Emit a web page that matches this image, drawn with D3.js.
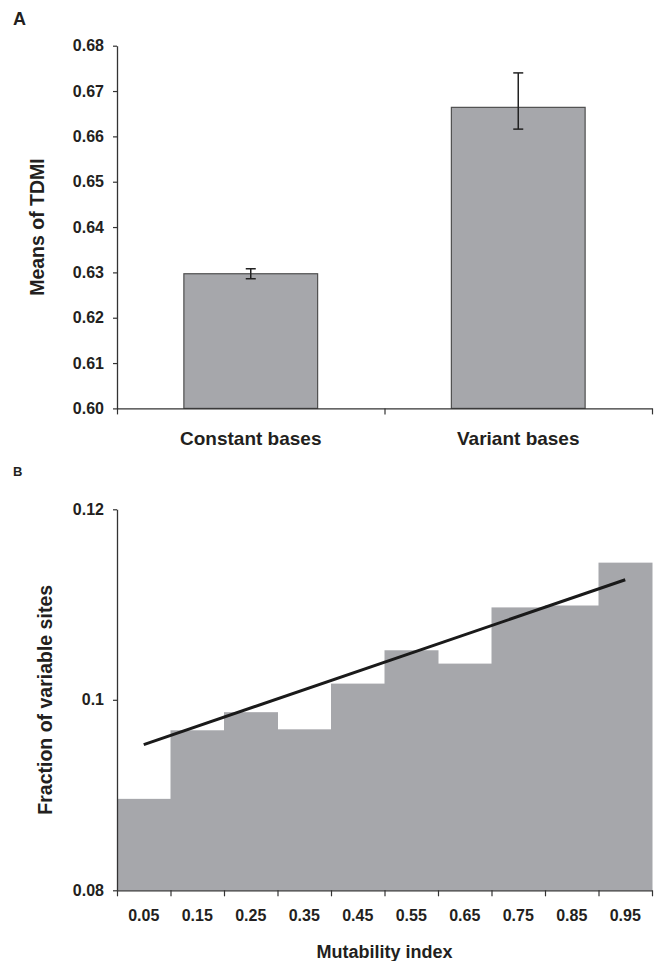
<!DOCTYPE html>
<html>
<head>
<meta charset="utf-8">
<script src="https://cdn.jsdelivr.net/npm/d3@7/dist/d3.min.js"></script>
<style>
  html, body { margin: 0; padding: 0; background: #fff; }
  svg { display: block; }
  text { font-family: "Liberation Sans", Arial, sans-serif; font-weight: bold; fill: #231f20; }
</style>
</head>
<body>
<svg id="chart" width="657" height="961"></svg>
<script>
// Panel A: mean TDMI per base class, with error bars
const baseClasses = ["Constant bases", "Variant bases"];
const tdmiMeans = [0.6297, 0.6664];
const tdmiErrLow = [0.6286, 0.6616];
const tdmiErrHigh = [0.6308, 0.6740];
const tdmiTicks = [0.60, 0.61, 0.62, 0.63, 0.64, 0.65, 0.66, 0.67, 0.68];

// Panel B: fraction of variable sites per mutability-index bin
const mutabilityBins = ["0.05", "0.15", "0.25", "0.35", "0.45", "0.55", "0.65", "0.75", "0.85", "0.95"];
const variableFraction = [0.0896, 0.0968, 0.0987, 0.0969, 0.1017, 0.1052, 0.1038, 0.1097, 0.1099, 0.1144];
const fractionTicks = [0.08, 0.10, 0.12];
const fractionTickLabels = ["0.08", "0.1", "0.12"];
// Fitted trend line endpoints (bin centre, fraction)
const trendBins = ["0.05", "0.95"];
const trendValues = [0.0953, 0.1126];

const svg = d3.select("#chart");
const barFill = "#a6a7ab";
const lineColor = "#333";
const tickFont = "16px";

// ---------- Panel A ----------
const gA = svg.append("g");
gA.append("text").attr("x", 13).attr("y", 25).style("font-size", "18px").text("A");

const xA = d3.scaleBand().domain(baseClasses).range([117, 652]).paddingInner(0.5).paddingOuter(0.25);
const yA = d3.scaleLinear().domain([0.60, 0.68]).range([408.4, 45.7]);

gA.selectAll("rect.bar").data(baseClasses).join("rect")
  .attr("class", "bar")
  .attr("x", d => xA(d))
  .attr("width", xA.bandwidth())
  .attr("y", (d, i) => yA(tdmiMeans[i]))
  .attr("height", (d, i) => yA(0.60) - yA(tdmiMeans[i]))
  .attr("fill", barFill)
  .attr("stroke", "#4f4f4f")
  .attr("stroke-width", 1.2);

// error bars
const eb = gA.selectAll("g.err").data(baseClasses).join("g").attr("class", "err")
  .attr("transform", d => `translate(${xA(d) + xA.bandwidth() / 2},0)`);
eb.append("line").attr("x1", 0).attr("x2", 0)
  .attr("y1", (d, i) => yA(tdmiErrHigh[i])).attr("y2", (d, i) => yA(tdmiErrLow[i]))
  .attr("stroke", "#222").attr("stroke-width", 1.5);
eb.append("line").attr("x1", -5).attr("x2", 5)
  .attr("y1", (d, i) => yA(tdmiErrHigh[i])).attr("y2", (d, i) => yA(tdmiErrHigh[i]))
  .attr("stroke", "#222").attr("stroke-width", 1.5);
eb.append("line").attr("x1", -5).attr("x2", 5)
  .attr("y1", (d, i) => yA(tdmiErrLow[i])).attr("y2", (d, i) => yA(tdmiErrLow[i]))
  .attr("stroke", "#222").attr("stroke-width", 1.5);

// y axis
const yAxisA = gA.append("g").attr("transform", "translate(117,0)")
  .call(d3.axisLeft(yA).tickValues(tdmiTicks).tickFormat(d3.format(".2f")).tickSize(4).tickSizeOuter(0).tickPadding(9));
// x axis: boundary ticks between categories
const xEdgesA = d3.scaleLinear().domain([0, baseClasses.length]).range(xA.range());
const xAxisA = gA.append("g").attr("transform", `translate(0,${yA(0.60)})`)
  .call(d3.axisBottom(xEdgesA).tickValues(d3.range(baseClasses.length + 1)).tickFormat("").tickSize(6).tickSizeOuter(0));
const catAxisA = gA.append("g").attr("transform", `translate(0,${yA(0.60)})`)
  .call(d3.axisBottom(xA).tickSize(0).tickPadding(23));
catAxisA.select(".domain").remove();
catAxisA.selectAll("text").style("font-size", "19px");

[yAxisA, xAxisA].forEach(a => {
  a.select(".domain").attr("stroke", lineColor).attr("stroke-width", 1.3);
  a.selectAll(".tick line").attr("stroke", lineColor).attr("stroke-width", 1.2);
  a.selectAll("text").style("font-size", tickFont);
});

gA.append("text")
  .attr("transform", `translate(43.5,${(yA(0.60) + yA(0.68)) / 2}) rotate(-90)`)
  .attr("text-anchor", "middle")
  .style("font-size", "19.5px")
  .text("Means of TDMI");

// ---------- Panel B ----------
const gB = svg.append("g");
gB.append("text").attr("x", 13).attr("y", 476).style("font-size", "13px").text("B");

const xB = d3.scaleBand().domain(mutabilityBins).range([117, 652]).padding(0);
const yB = d3.scaleLinear().domain([0.08, 0.12]).range([890.3, 509.3]);

gB.selectAll("rect.bin").data(mutabilityBins).join("rect")
  .attr("class", "bin")
  .attr("x", d => xB(d))
  .attr("width", xB.bandwidth() + 0.5)
  .attr("y", (d, i) => yB(variableFraction[i]))
  .attr("height", (d, i) => yB(0.08) - yB(variableFraction[i]))
  .attr("fill", barFill);

// trend line
const trendLine = d3.line()
  .x(d => xB(d[0]) + xB.bandwidth() / 2)
  .y(d => yB(d[1]));
gB.append("path")
  .datum(trendBins.map((b, i) => [b, trendValues[i]]))
  .attr("d", trendLine)
  .attr("fill", "none")
  .attr("stroke", "#1a1a1a")
  .attr("stroke-width", 3);

const yAxisB = gB.append("g").attr("transform", "translate(117,0)")
  .call(d3.axisLeft(yB).tickValues(fractionTicks).tickFormat((d, i) => fractionTickLabels[i]).tickSize(4).tickSizeOuter(0).tickPadding(9));
const xEdgesB = d3.scaleLinear().domain([0, mutabilityBins.length]).range(xB.range());
const xAxisB = gB.append("g").attr("transform", `translate(0,${yB(0.08)})`)
  .call(d3.axisBottom(xEdgesB).tickValues(d3.range(mutabilityBins.length + 1)).tickFormat("").tickSize(6).tickSizeOuter(0));
const binAxisB = gB.append("g").attr("transform", `translate(0,${yB(0.08)})`)
  .call(d3.axisBottom(xB).tickSize(0).tickPadding(19));
binAxisB.select(".domain").remove();
binAxisB.selectAll("text").style("font-size", tickFont);

[yAxisB, xAxisB].forEach(a => {
  a.select(".domain").attr("stroke", lineColor).attr("stroke-width", 1.3);
  a.selectAll(".tick line").attr("stroke", lineColor).attr("stroke-width", 1.2);
  a.selectAll("text").style("font-size", tickFont);
});

gB.append("text")
  .attr("transform", `translate(52,${(yB(0.08) + yB(0.12)) / 2}) rotate(-90)`)
  .attr("text-anchor", "middle")
  .style("font-size", "19.5px")
  .text("Fraction of variable sites");

gB.append("text")
  .attr("x", (117 + 652) / 2)
  .attr("y", 958)
  .attr("text-anchor", "middle")
  .style("font-size", "18px")
  .text("Mutability index");

svg.selectAll("text").attr("fill", "#231f20");
</script>
</body>
</html>
